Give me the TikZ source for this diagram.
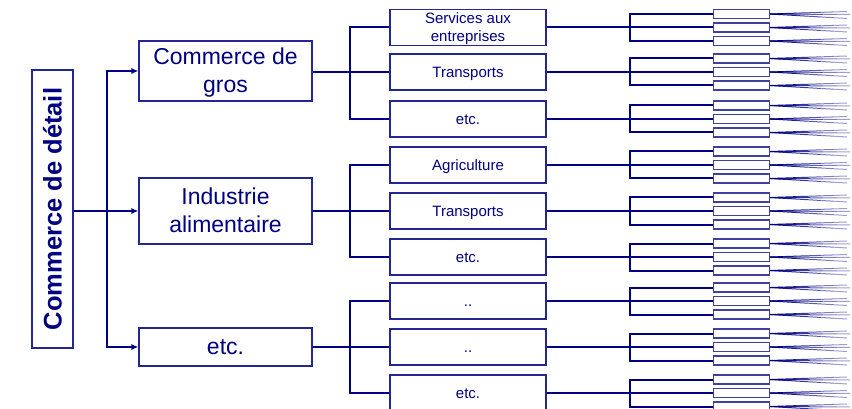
\documentclass[tikz,border=0pt]{standalone}
\usepackage{fontspec}
\setmainfont{Liberation Sans}
\usetikzlibrary{arrows.meta,calc}
\definecolor{nv}{RGB}{0,0,128}
\newcommand\myfan[1]{%
  \foreach \dx/\dy in {77/-2.5,80/0.5,77/4.5}{%
    \foreach \k/\p in {0/100,1/90,2/78,3/64,4/50,5/38}{%
      \draw[nv!\p, line width=1pt] ($(#1.east)+({\k*\dx/6},{\k*\dy/6})$) -- ($(#1.east)+({(\k+1)*\dx/6},{(\k+1)*\dy/6})$);
    }%
  }%
}
\begin{document}
\begin{tikzpicture}[x=1pt,y=-1pt,
  box/.style={draw=nv!85, line width=1.2pt, fill=white, text=nv, align=center, inner sep=0pt},
  lvlone/.style={box, minimum width=173pt, font=\fontsize{23}{28}\selectfont},
  lvltwo/.style={box, minimum width=156pt, minimum height=36pt, font=\fontsize{15}{18}\selectfont},
  onel/.style={text height=20.8pt, text depth=4.9pt},
  twol/.style={text height=48.8pt, text depth=4.9pt},
  onem/.style={text height=13.6pt, text depth=3.2pt},
  twom/.style={text height=31.6pt, text depth=3.2pt},
  small/.style={draw=nv!75, line width=1.1pt, fill=white, minimum width=56pt, minimum height=9pt, inner sep=0pt},
  conn/.style={nv, line width=2pt},
  arr/.style={conn, -{Latex[length=7pt,width=6pt]}},
]
\useasboundingbox (0,0) rectangle (852,409);
\fill[white] (0,0) rectangle (852,409);

% root
\node[box, rotate=90, minimum width=278pt, minimum height=41pt, font=\fontsize{25.5}{30}\selectfont\bfseries] (root) at (52.5,209) {Commerce de détail};

% level 1
\node[lvlone, twol, minimum height=60pt] (ga) at (225.5,71) {Commerce de\\gros};
\node[lvlone, twol, minimum height=66pt] (gb) at (225.5,211) {Industrie\\alimentaire};
\node[lvlone, onel, minimum height=38pt] (gc) at (225.5,347) {etc.};

\coordinate (j0) at (107,211);
\draw[arr] (root.south |- gb.west) -- (gb.west);
\draw[arr] (j0) |- (ga.west);
\draw[arr] (j0) |- (gc.west);

% level 2
\node[lvltwo, twom] (la1) at (468,27.5) {Services aux\\entreprises};
\node[lvltwo, onem] (la2) at (468,72) {Transports};
\node[lvltwo, onem] (la3) at (468,119) {etc.};
\node[lvltwo, onem] (lb1) at (468,165) {Agriculture};
\node[lvltwo, onem] (lb2) at (468,211) {Transports};
\node[lvltwo, onem] (lb3) at (468,257) {etc.};
\node[lvltwo, onem] (lc1) at (468,301) {..};
\node[lvltwo, onem] (lc2) at (468,347) {..};
\node[lvltwo, onem] (lc3) at (468,393) {etc.};

\foreach \g in {a,b,c}{
  \coordinate (k\g) at ($(l\g2.west)+(-39,0)$);
  \draw[conn] (g\g.east |- l\g2.west) -- (l\g2.west);
  \draw[conn] (l\g1.west) -| (k\g) |- (l\g3.west);
}

% level 3
\foreach \n in {a1,a2,a3,b1,b2,b3,c1,c2,c3}{
  \coordinate (j\n) at ($(l\n.east)+(83,0)$);
  \node[small] (s\n1) at ($(l\n.east)+(195,-13.5)$) {};
  \node[small] (s\n2) at ($(l\n.east)+(195,0)$) {};
  \node[small] (s\n3) at ($(l\n.east)+(195,13.5)$) {};
  \draw[conn] (l\n.east) -- (s\n2.west);
  \draw[conn] (s\n1.west) -| (j\n) |- (s\n3.west);
  \myfan{s\n1}
  \myfan{s\n2}
  \myfan{s\n3}
}
\end{tikzpicture}
\end{document}
